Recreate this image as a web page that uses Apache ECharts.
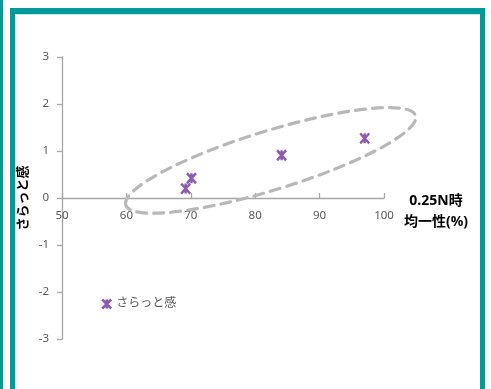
<!DOCTYPE html>
<html>
<head>
<meta charset="utf-8">
<script src="https://cdn.jsdelivr.net/npm/echarts@6/dist/echarts.min.js"></script>
<style>
html,body{margin:0;padding:0;background:#fff;}
#chart{width:491px;height:389px;}
</style>
</head>
<body>
<div id="chart"></div>
<script>
// ---- data ----
const seriesName = 'さらっと感';
const xValues = [69.2, 70.1, 84.1, 97.0];
const yValues = [0.20, 0.42, 0.91, 1.27];
const xTicks = [50, 60, 70, 80, 90, 100];
const yTicks = [-3, -2, -1, 0, 1, 2, 3];
const xAxisName = '0.25N時\n均一性(%)';
const yAxisName = 'さらっと感';
// annotation ellipse, given by the two ends of its long axis (data units)
const ellipseTipLeft = [59.9, -0.15];
const ellipseTipRight = [104.9, 1.75];

const TEAL = '#009a98';
const FONT = "'Noto Sans','Noto Sans CJK JP',sans-serif";
const LABEL = '#595959';
const AXIS = '#a6a6a6';
const PURPLE = '#7030a0';
const markerPath = 'path://M0,0L10,10M10,0L0,10M5,0L5,10';

const chart = echarts.init(document.getElementById('chart'), null, {renderer: 'canvas'});

const points = xValues.map((x, i) => [x, yValues[i]]);

const GRID_TOP = 57, GRID_BOTTOM = 50, H = 389;
// x axis crosses the y axis at y = 0: put it there through the axis offset
const plotH = H - GRID_TOP - GRID_BOTTOM;
const zeroFrac = (0 - yTicks[0]) / (yTicks[yTicks.length - 1] - yTicks[0]);
const xAxisOffset = -plotH * zeroFrac;

const option = {
  backgroundColor: '#ffffff',
  animation: false,
  textStyle: {fontFamily: FONT},
  grid: {left: 62, right: 107, top: GRID_TOP, bottom: GRID_BOTTOM, containLabel: false},
  xAxis: {
    type: 'value',
    min: xTicks[0], max: xTicks[xTicks.length - 1], interval: 10,
    offset: xAxisOffset,
    name: '',
    axisLine: {onZero: false, lineStyle: {color: AXIS, width: 1.3}},
    axisTick: {show: true, inside: true, length: 5, lineStyle: {color: AXIS, width: 1.3}},
    axisLabel: {color: LABEL, fontSize: 11.5, fontFamily: FONT, margin: 12},
    splitLine: {show: false}
  },
  yAxis: {
    type: 'value',
    min: yTicks[0], max: yTicks[yTicks.length - 1], interval: 1,
    name: yAxisName,
    nameLocation: 'middle',
    nameRotate: 90,
    nameGap: 32,
    nameMoveOverlap: false,
    nameTextStyle: {fontFamily: FONT, fontSize: 13, fontWeight: 'bold', color: '#000'},
    axisLine: {show: true, lineStyle: {color: AXIS, width: 1.3}},
    axisTick: {show: true, inside: false, length: 5, lineStyle: {color: AXIS, width: 1.3}},
    axisLabel: {color: LABEL, fontSize: 11.5, fontFamily: FONT, margin: 13},
    splitLine: {show: false}
  },
  legend: {
    left: 96, top: 293,
    itemWidth: 9, itemHeight: 10,
    textStyle: {color: LABEL, fontSize: 12, fontFamily: FONT},
    data: [{name: seriesName, icon: markerPath,
            itemStyle: {color: 'transparent', borderColor: PURPLE, borderWidth: 2.5}}]
  },
  graphic: [
    {type: 'rect', silent: true, shape: {x: 0, y: 0, width: 3, height: 389}, style: {fill: TEAL}},
    {type: 'rect', silent: true, shape: {x: 10, y: 8, width: 475, height: 6}, style: {fill: TEAL}},
    {type: 'rect', silent: true, shape: {x: 10, y: 8, width: 5, height: 381}, style: {fill: TEAL}},
    {type: 'rect', silent: true, shape: {x: 480, y: 8, width: 5, height: 381}, style: {fill: TEAL}},
    {type: 'rect', silent: true, shape: {x: 15, y: 14, width: 465, height: 1}, style: {fill: '#bfe9e8'}},
    {type: 'rect', silent: true, shape: {x: 15, y: 14, width: 1, height: 375}, style: {fill: '#bfe9e8'}},
    {type: 'text', silent: true, x: 436, y: 211.5,
     style: {text: xAxisName, font: "bold 14px " + FONT, fill: '#000', align: 'center',
             verticalAlign: 'middle', lineHeight: 21}}
  ],
  series: [
    {
      type: 'scatter',
      name: seriesName,
      data: points,
      symbol: markerPath,
      symbolSize: [9, 10],
      itemStyle: {color: 'transparent', borderColor: PURPLE, borderWidth: 2.5},
      z: 3
    },
    {
      type: 'custom',
      name: 'ellipse',
      silent: true,
      clip: false,
      data: [[ellipseTipLeft[0], ellipseTipLeft[1], ellipseTipRight[0], ellipseTipRight[1]]],
      renderItem: function (params, api) {
        const p1 = api.coord([api.value(0), api.value(1)]);
        const p2 = api.coord([api.value(2), api.value(3)]);
        const cx = (p1[0] + p2[0]) / 2, cy = (p1[1] + p2[1]) / 2;
        const dx = p2[0] - p1[0], dy = p2[1] - p1[1];
        const a = Math.sqrt(dx * dx + dy * dy) / 2;
        const rot = Math.atan2(-dy, dx);
        return {
          type: 'ellipse',
          x: cx, y: cy, rotation: rot,
          shape: {cx: 0, cy: 0, rx: a, ry: 29.5},
          style: {fill: 'none', stroke: '#b8b8b8', lineWidth: 3.2, lineDash: [10, 7], lineCap: 'round'}
        };
      },
      z: 2
    }
  ]
};
chart.setOption(option);
</script>
</body>
</html>
